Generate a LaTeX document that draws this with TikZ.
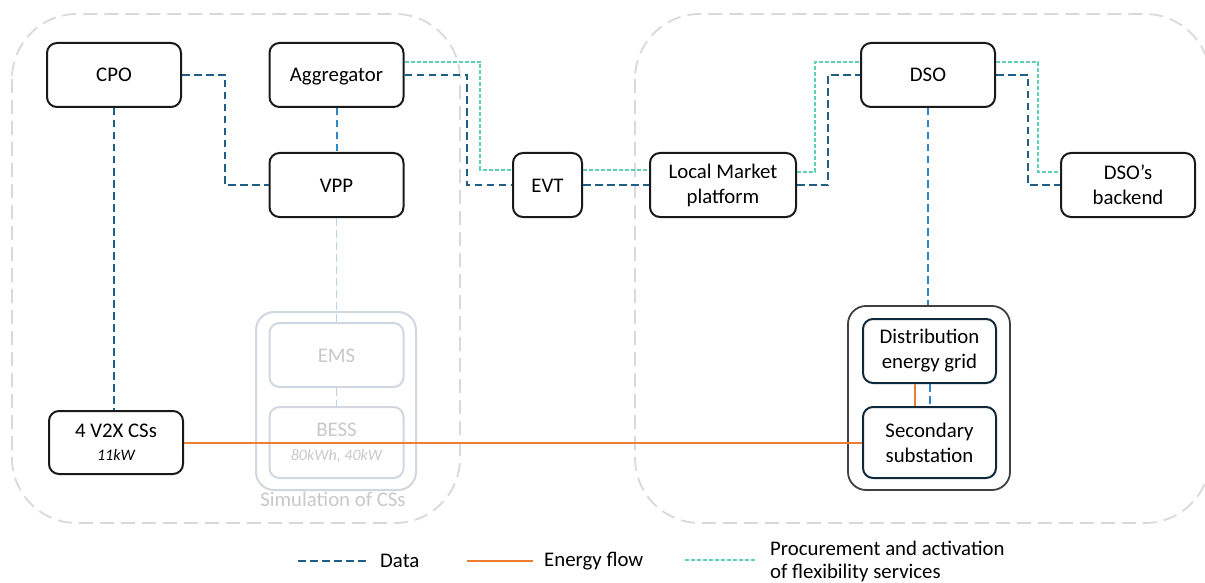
\documentclass[tikz,border=0pt]{standalone}
\usepackage{fontspec}
\setmainfont{Carlito}
\definecolor{datablue}{HTML}{1F5F85}
\definecolor{midblue}{HTML}{2E86C8}
\definecolor{lightblue}{HTML}{B8D3EC}
\definecolor{flexteal}{HTML}{5FCFB5}
\definecolor{energyorange}{HTML}{ED7D31}
\definecolor{zonegray}{HTML}{D9D9D9}
\definecolor{simgray}{HTML}{D0D7DE}
\definecolor{simtext}{HTML}{C8C8C8}
\definecolor{navy}{HTML}{10293A}
\definecolor{outergray}{HTML}{404040}
\tikzset{
  box/.style={draw=black!90, line width=2pt, rounded corners=10pt, minimum width=134pt, minimum height=64pt, inner sep=0pt, align=center, font=\fontsize{20.8}{25}\selectfont},
  oneline/.style={text height=16pt, text depth=2pt},
  simbox/.style={box, draw=simgray, text=simtext},
  navybox/.style={box, draw=navy},
  zone/.style={draw=zonegray, line width=1.8pt, dash pattern=on 14pt off 7pt, rounded corners=65pt},
  data/.style={draw=datablue, line width=2pt, dash pattern=on 7.5pt off 4.5pt},
  datamid/.style={draw=midblue, line width=2pt, dash pattern=on 7.5pt off 4.5pt},
  datalight/.style={draw=lightblue, line width=1.8pt, dash pattern=on 7.5pt off 4.5pt},
  flex/.style={draw=flexteal, line width=2pt, dash pattern=on 4pt off 2pt},
  energy/.style={draw=energyorange, line width=2pt},
  legtext/.style={anchor=west, inner sep=0pt, align=left, font=\fontsize{20.8}{23}\selectfont},
}
\begin{document}
\begin{tikzpicture}[x=1pt, y=-1pt]
\useasboundingbox (0,0) rectangle (1205,583);
\clip (0,0) rectangle (1205,583);
% zones
\draw[zone] (12,14) rectangle (460,523);
\draw[zone] (635,14) rectangle (1210,523);
% simulation group
\node[draw=simgray, line width=2pt, rounded corners=18pt, minimum width=160pt, minimum height=178pt, inner sep=0pt] (sim) at (336,401) {};
\node[anchor=north, inner sep=0pt, text=simtext, font=\fontsize{20.8}{25}\selectfont] (simlabel) at (333,492) {Simulation of CSs};
% substation group
\node[draw=outergray, line width=1.8pt, rounded corners=18pt, minimum width=162pt, minimum height=184pt, inner sep=0pt] (sub) at (929,398) {};
% nodes
\node[box, oneline] (cpo) at (114,75) {CPO};
\node[box, oneline] (agg) at (336.5,75) {Aggregator};
\node[box, oneline] (vpp) at (336.5,185) {VPP};
\node[box, oneline, minimum width=69pt] (evt) at (547.5,185) {EVT};
\node[box, minimum width=146pt] (lmp) at (723,185) {Local Market\\platform};
\node[box, oneline] (dso) at (928,75) {DSO};
\node[box] (back) at (1128,185) {DSO’s\\backend};
\node[box, minimum height=63pt] (v2x) at (116,442.5) {4 V2X CSs\\[-2pt]{\fontsize{16}{18}\selectfont\itshape 11kW}};
\node[simbox, oneline] (ems) at (336.5,355) {EMS};
\node[simbox, minimum height=71pt] (bess) at (336.5,442.5) {BESS\\[-1pt]{\fontsize{16}{18}\selectfont\itshape 80kWh, 40kW}};
\node[navybox, minimum width=133pt] (grid) at (929.5,351) {Distribution\\energy grid};
\node[navybox, minimum width=133pt, minimum height=71pt] (sec) at (929.5,442.5) {Secondary\\substation};
% data connectors
\draw[data] (cpo.south) -- (cpo.south |- v2x.north);
\draw[data] (cpo.east) -| (225,185) -- (vpp.west);
\draw[datamid] (agg.south) -- (vpp.north);
\draw[datalight] (vpp.south) -- (ems.north);
\draw[datalight] (ems.south) -- (bess.north);
\draw[data] (agg.east) -| (467,185) -- (evt.west);
\draw[data] (evt.east) -- (lmp.west);
\draw[data] (lmp.east) -| (828,75) -- (dso.west);
\draw[data] (dso.east) -| (1028,185) -- (back.west);
\draw[datamid] (dso.south) -- (dso.south |- sub.north);
\draw[datamid] (grid.south) -- (sec.north);
% flexibility connectors
\draw[flex] ([yshift=13pt]agg.east) -| (480,170) -- ([yshift=15pt]evt.west);
\draw[flex] ([yshift=15pt]evt.east) -- ([yshift=15pt]lmp.west);
\draw[flex] ([yshift=13pt]lmp.east) -| (815,62) -- ([yshift=13pt]dso.west);
\draw[flex] ([yshift=13pt]dso.east) -| (1038,172) -- ([yshift=13pt]back.west);
% energy flow
\draw[energy] (v2x.east) -- (sec.west);
\draw[energy] ([xshift=-15pt]grid.south) -- ([xshift=-15pt]sec.north);
% legend
\coordinate (l1a) at (298,561); \coordinate (l1b) at (366,561);
\coordinate (l2a) at (467,561); \coordinate (l2b) at (533,561);
\coordinate (l3a) at (685,560); \coordinate (l3b) at (757,560);
\draw[data] (l1a) -- (l1b);
\draw[energy] (l2a) -- (l2b);
\draw[flex] (l3a) -- (l3b);
\node[legtext] (t1) at (380,561) {Data};
\node[legtext] (t2) at (544,561) {Energy flow};
\node[legtext] (t3) at (770,561) {Procurement and activation\\of flexibility services};
\end{tikzpicture}
\end{document}
